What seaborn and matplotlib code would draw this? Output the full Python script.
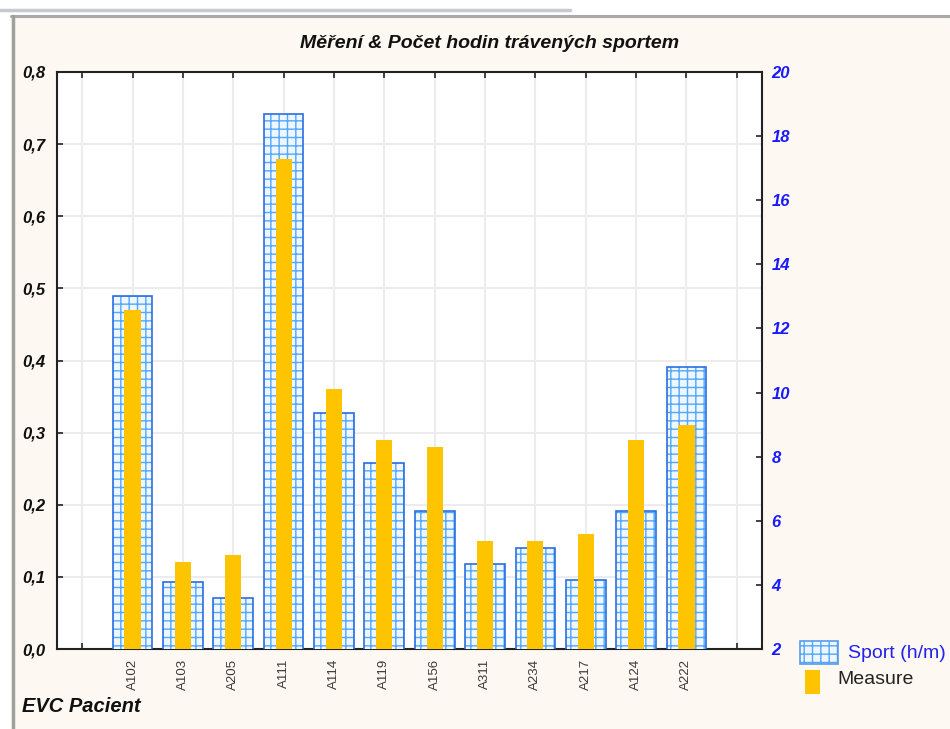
import matplotlib
matplotlib.use("Agg")
import matplotlib.pyplot as plt
import seaborn as sns
import pandas as pd
from matplotlib.patches import Rectangle
from matplotlib.lines import Line2D

# ---------------- data ----------------
patients = ["A102", "A103", "A205", "A111", "A114", "A119",
            "A156", "A311", "A234", "A217", "A124", "A222"]
sport = [13.0, 4.1, 3.6, 18.7, 9.35, 7.8, 6.3, 4.65, 5.15, 4.15, 6.3, 10.8]
measure = [0.47, 0.12, 0.13, 0.68, 0.36, 0.29, 0.28, 0.15, 0.15, 0.16, 0.29, 0.31]
left_ticks = [0.0, 0.1, 0.2, 0.3, 0.4, 0.5, 0.6, 0.7, 0.8]
right_ticks = [2, 4, 6, 8, 10, 12, 14, 16, 18, 20]
title = "Měření & Počet hodin trávených sportem"
xlabel = "EVC Pacient"
legend_labels = ["Sport (h/m)", "Measure"]

# ---------------- style ----------------
sns.set_theme(style="white")
plt.rcParams["font.family"] = ["Liberation Sans", "DejaVu Sans"]
plt.rcParams["hatch.linewidth"] = 1.0

BLUE_FILL = "#eef6ff"
BLUE_HATCH = "#52a8ff"
BLUE_EDGE = "#2a6ee0"
YELLOW = "#ffc400"
CREAM = "#fdf8f1"

df = pd.DataFrame({"Pacient": patients, "Sport": sport, "Measure": measure})

W, H = 950, 729
fig = plt.figure(figsize=(W / 100, H / 100), dpi=100)
fig.patch.set_facecolor(CREAM)


def fx(px):
    return px / W


def fy(py):
    return 1 - py / H


ax = fig.add_axes([fx(57), fy(649), fx(762) - fx(57), fy(72) - fy(649)])
ax.set_facecolor("white")
ax2 = ax.twinx()
ax3 = ax.twinx()

# Sport bars (right axis), hatched
sns.barplot(data=df, x="Pacient", y="Sport", ax=ax2, width=0.79,
            color=BLUE_FILL, saturation=1, edgecolor=BLUE_HATCH,
            linewidth=0, hatch="++", errorbar=None)
sns.barplot(data=df, x="Pacient", y="Sport", ax=ax2, width=0.79,
            fill=False, color=BLUE_EDGE, linewidth=1.2, errorbar=None)
# Measure bars (left axis)
sns.barplot(data=df, x="Pacient", y="Measure", ax=ax3, width=0.32,
            color=YELLOW, saturation=1, linewidth=0, errorbar=None)

# ---------------- axes ----------------
ax.set_ylim(0, 0.8)
ax.set_yticks(left_ticks,
              labels=[f"{v:.1f}".replace(".", ",") for v in left_ticks],
              fontsize=12, fontweight="bold", fontstyle="italic", color="#111")
ax3.set_ylim(0, 0.8)
ax3.yaxis.set_visible(False)

ax2.set_ylim(2, 20)
ax2.set_yticks(right_ticks, labels=[str(v) for v in right_ticks],
               fontsize=12, fontweight="bold", fontstyle="italic", color="#1a1aff")
ax2.set_ylabel("")
ax3.set_ylabel("")

n = len(patients)
ax.set_xlim(-1.5, n + 0.5)
ax.set_xticks(list(range(-1, n + 1)), labels=[""] + patients + [""],
              rotation=90, fontsize=9.5, color="#3a3a3a")
ax.set_xlabel("")

ax.grid(True, color="#ececec", linewidth=1.5)
ax.set_axisbelow(True)

for s in ax.spines.values():
    s.set_color("#222222")
    s.set_linewidth(1.5)
for a in (ax2, ax3):
    for s in a.spines.values():
        s.set_visible(False)

ax.xaxis.set_ticks_position("both")
ax.tick_params(axis="x", direction="in", length=4, width=1.2, color="#222222", pad=7)
ax.tick_params(axis="y", direction="in", length=4, width=1.2, color="#222222", pad=8,
               left=True, right=False)
ax2.tick_params(axis="y", direction="in", length=4, width=1.2, color="#222222", pad=7,
                left=False, right=True)

# ---------------- texts ----------------
fig.text(fx(490), fy(43), title, ha="center", va="center", fontsize=14,
         fontweight="bold", fontstyle="italic", color="#111")
fig.text(fx(22), fy(706), xlabel, ha="left", va="center", fontsize=14.5,
         fontweight="bold", fontstyle="italic", color="#111")

# ---------------- legend ----------------
fig.add_artist(Rectangle((fx(800), fy(664)), 38 / W, 23 / H, transform=fig.transFigure,
                         facecolor=BLUE_FILL, edgecolor=BLUE_HATCH, hatch="++", linewidth=0))
fig.add_artist(Rectangle((fx(800), fy(664)), 38 / W, 23 / H, transform=fig.transFigure,
                         facecolor="none", edgecolor="#5a9be8", linewidth=1.2))
fig.text(fx(848), fy(653), legend_labels[0], ha="left", va="center", fontsize=14,
         color="#2222ee")
fig.add_artist(Rectangle((fx(805), fy(694)), 15 / W, 24 / H, transform=fig.transFigure,
                         facecolor=YELLOW, edgecolor="none"))
fig.text(fx(837), fy(679), legend_labels[1], ha="left", va="center", fontsize=14,
         color="#222222")

# ---------------- window frame ----------------
fig.add_artist(Rectangle((0, fy(15)), 1, 15 / H, transform=fig.transFigure,
                         facecolor="white", edgecolor="none", zorder=-1))
fig.add_artist(Rectangle((0, 0), 11 / W, 1, transform=fig.transFigure,
                         facecolor="white", edgecolor="none", zorder=-1))
fig.add_artist(Line2D([fx(0), fx(570)], [fy(10), fy(10)], transform=fig.transFigure,
                      color="#c8c8d2", linewidth=2.5))
fig.add_artist(Line2D([fx(11), 1], [fy(15.5), fy(15.5)], transform=fig.transFigure,
                      color="#a8a8a8", linewidth=2.2))
fig.add_artist(Line2D([fx(12.5), fx(12.5)], [0, fy(15.5)], transform=fig.transFigure,
                      color="#a0a0a0", linewidth=2.5))

fig.savefig("out.png", dpi=100, facecolor=fig.get_facecolor())
